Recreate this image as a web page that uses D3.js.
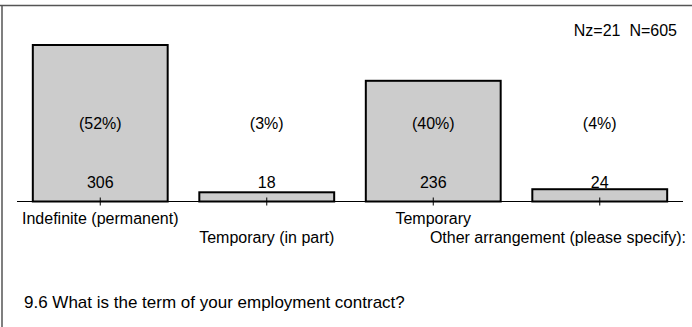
<!DOCTYPE html>
<html><head><meta charset="utf-8">
<script src="https://cdn.jsdelivr.net/npm/d3@7"></script>
<style>body{margin:0;background:#fff}svg{display:block;font-family:"Liberation Sans",Arial,sans-serif}</style>
</head><body>
<svg id="c" width="692" height="327"></svg>
<script>
const categories = ["Indefinite (permanent)", "Temporary (in part)", "Temporary", "Other arrangement (please specify):"];
const counts = [306, 18, 236, 24];
const percents = ["(52%)", "(3%)", "(40%)", "(4%)"];
const nLabel = "Nz=21  N=605";
const title = "9.6 What is the term of your employment contract?";

const svg = d3.select("#c");
svg.append("line").attr("x1",0).attr("x2",692).attr("y1",5.5).attr("y2",5.5).attr("stroke","#555").attr("stroke-width",1.5);
svg.append("line").attr("x1",2).attr("x2",2).attr("y1",5).attr("y2",327).attr("stroke","#555").attr("stroke-width",1.5);

const x = d3.scaleBand().domain(categories).range([17,683]).paddingInner(0.19).paddingOuter(0.095);
const y = d3.scaleLinear().domain([0,306]).range([201.5,45]);

svg.selectAll("rect.bar").data(categories).enter().append("rect")
  .attr("x", d=>x(d)).attr("width", x.bandwidth())
  .attr("y", (d,i)=>y(counts[i])).attr("height",(d,i)=>y(0)-y(counts[i]))
  .attr("fill","#cccccc").attr("stroke","#000").attr("stroke-width",2);

const axis = d3.axisBottom(x).tickSize(0).tickFormat("");
const g = svg.append("g").attr("transform",`translate(0,${y(0)})`).call(axis);
g.select(".domain").attr("stroke","#000").attr("stroke-width",1).attr("d","M17,0H683");
g.selectAll(".tick line").remove();
categories.forEach(c=>{
  const cx = x(c)+x.bandwidth()/2;
  g.append("line").attr("x1",cx).attr("x2",cx).attr("y1",-4).attr("y2",4).attr("stroke","#000");
});

svg.selectAll("text.pct").data(categories).enter().append("text")
  .attr("x",d=>x(d)+x.bandwidth()/2).attr("y",129).attr("text-anchor","middle")
  .attr("font-size",16).text((d,i)=>percents[i]);
svg.selectAll("text.cnt").data(categories).enter().append("text")
  .attr("x",d=>x(d)+x.bandwidth()/2).attr("y",188).attr("text-anchor","middle")
  .attr("font-size",16).text((d,i)=>counts[i]);
svg.selectAll("text.cat").data(categories).enter().append("text")
  .attr("x",d=>x(d)+x.bandwidth()/2).attr("y",(d,i)=> i%2===0 ? 224 : 243).attr("text-anchor","middle")
  .attr("font-size",16).text(d=>d)
  .each(function(){
    const w = this.getComputedTextLength();
    const cx = +this.getAttribute("x");
    if (cx + w/2 > 686) this.setAttribute("x", 686 - w/2);
  });

svg.append("text").attr("x",677).attr("y",36).attr("text-anchor","end").attr("font-size",16)
  .attr("xml:space","preserve").style("white-space","pre").text(nLabel);
svg.append("text").attr("x",24).attr("y",308).attr("font-size",17).text(title);
</script>
</body></html>
